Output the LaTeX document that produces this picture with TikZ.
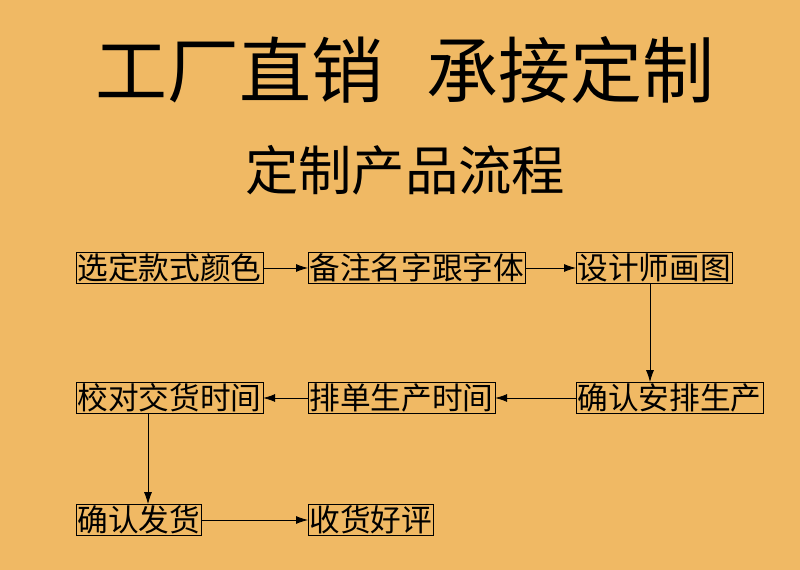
\documentclass[tikz,border=0pt]{standalone}
\usepackage{fontspec}
\newfontfamily\cjk{Noto Sans CJK SC}
\usetikzlibrary{arrows.meta}
\definecolor{bgorange}{HTML}{F0B964}

\begin{document}
\begin{tikzpicture}[
    x=0.75pt, y=-0.75pt,
    stepbox/.style={draw, thin, inner sep=1pt, anchor=west, font=\cjk\fontsize{23}{25}\selectfont},
    arrow/.style={-{Latex[length=9pt,width=6pt]}, semithick}
]
\fill[bgorange] (0,0) rectangle (800,570);
\useasboundingbox (0,0) rectangle (800,570);

% Titles
\node (title) at (405,70) {\cjk\fontsize{54}{58}\selectfont 工厂直销\hspace{0.6em}承接定制};
\node (subtitle) at (405,170) {\cjk\fontsize{40}{44}\selectfont 定制产品流程};

% Steps
\node (choose) [stepbox] at (76,268) {选定款式颜色};
\node (note) [stepbox] at (308,268) {备注名字跟字体};
\node (design) [stepbox] at (576,268) {设计师画图};
\node (confirm) [stepbox] at (576,398) {确认安排生产};
\node (schedule) [stepbox] at (308,398) {排单生产时间};
\node (check) [stepbox] at (76,398) {校对交货时间};
\node (ship) [stepbox] at (76,520) {确认发货};
\node (review) [stepbox] at (308,520) {收货好评};

% Arrows
\draw [arrow] (choose) -- (note);
\draw [arrow] (note) -- (design);
\draw [arrow] (design.south -| 650,0) -- (confirm.north -| 650,0);
\draw [arrow] (confirm) -- (schedule);
\draw [arrow] (schedule) -- (check);
\draw [arrow] (check.south -| 148,0) -- (ship.north -| 148,0);
\draw [arrow] (ship) -- (review);

\end{tikzpicture}
\end{document}
